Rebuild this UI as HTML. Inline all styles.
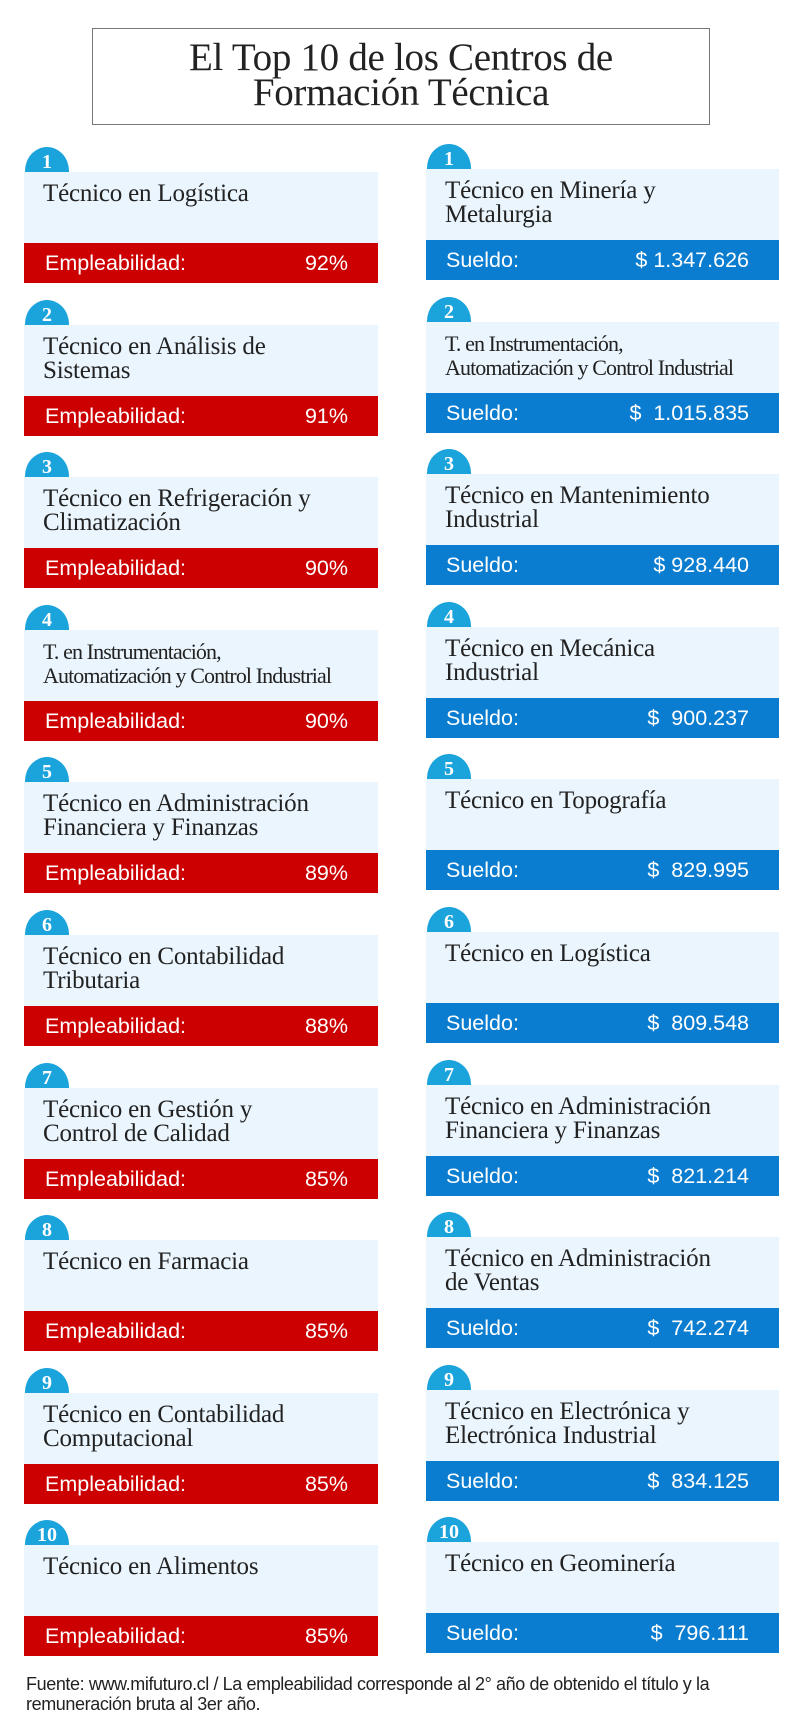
<!DOCTYPE html>
<html><head><meta charset="utf-8"><style>
body{margin:0;width:800px;height:1731px;background:#fff;position:relative;overflow:hidden;font-family:"Liberation Sans",sans-serif}
.tb{position:absolute;left:92px;top:28px;width:618px;height:97px;border:1.5px solid #777;text-align:center;font-family:"Liberation Serif",serif;font-size:39px;line-height:35px;color:#222;padding-top:11px;box-sizing:border-box;letter-spacing:-0.3px}
.c{position:absolute;height:136px}
.L{left:24px;width:354px}.R{left:426px;width:353px}
.b{position:absolute;left:1px;top:0;width:44px;height:26px;background:#1ba3dc;border-radius:22px 22px 0 0/24px 24px 0 0;color:#fff;font-family:"Liberation Serif",serif;font-weight:bold;font-size:20px;text-align:center;line-height:30px}
.lt{position:absolute;left:0;top:25px;width:100%;height:71px;background:#eaf5fd;font-family:"Liberation Serif",serif;font-size:25px;line-height:24px;color:#222;padding:10px 0 0 19px;box-sizing:border-box;letter-spacing:-0.2px;white-space:nowrap}
.sm{font-size:22px;letter-spacing:-0.9px;line-height:24px}
.bar{position:absolute;left:0;top:96px;width:100%;height:40px;color:#fff;font-size:21.5px;line-height:40px}
.L .bar{background:#cc0000}.R .bar{background:#0b7dd0}
.bar span{position:absolute;left:21px}.bar i{font-style:normal;position:absolute;right:30px}
.R .bar span{left:20px}
.f{position:absolute;left:26px;top:1674px;font-size:18px;line-height:20px;color:#222;letter-spacing:-0.4px;white-space:nowrap}
</style></head><body>
<div class="tb">El Top 10 de los Centros de<br>Formación Técnica</div>

<div class="c L" style="top:147px"><div class="b">1</div><div class="lt">Técnico en Logística</div><div class="bar"><span>Empleabilidad:</span><i>92%</i></div></div>
<div class="c L" style="top:300px"><div class="b">2</div><div class="lt">Técnico en Análisis de<br>Sistemas</div><div class="bar"><span>Empleabilidad:</span><i>91%</i></div></div>
<div class="c L" style="top:452px"><div class="b">3</div><div class="lt">Técnico en Refrigeración y<br>Climatización</div><div class="bar"><span>Empleabilidad:</span><i>90%</i></div></div>
<div class="c L" style="top:605px"><div class="b">4</div><div class="lt sm">T. en Instrumentación,<br>Automatización y Control Industrial</div><div class="bar"><span>Empleabilidad:</span><i>90%</i></div></div>
<div class="c L" style="top:757px"><div class="b">5</div><div class="lt">Técnico en Administración<br>Financiera y Finanzas</div><div class="bar"><span>Empleabilidad:</span><i>89%</i></div></div>
<div class="c L" style="top:910px"><div class="b">6</div><div class="lt">Técnico en Contabilidad<br>Tributaria</div><div class="bar"><span>Empleabilidad:</span><i>88%</i></div></div>
<div class="c L" style="top:1063px"><div class="b">7</div><div class="lt">Técnico en Gestión y<br>Control de Calidad</div><div class="bar"><span>Empleabilidad:</span><i>85%</i></div></div>
<div class="c L" style="top:1215px"><div class="b">8</div><div class="lt">Técnico en Farmacia</div><div class="bar"><span>Empleabilidad:</span><i>85%</i></div></div>
<div class="c L" style="top:1368px"><div class="b">9</div><div class="lt">Técnico en Contabilidad<br>Computacional</div><div class="bar"><span>Empleabilidad:</span><i>85%</i></div></div>
<div class="c L" style="top:1520px"><div class="b">10</div><div class="lt">Técnico en Alimentos</div><div class="bar"><span>Empleabilidad:</span><i>85%</i></div></div>

<div class="c R" style="top:144px"><div class="b">1</div><div class="lt">Técnico en Minería y<br>Metalurgia</div><div class="bar"><span>Sueldo:</span><i>$ 1.347.626</i></div></div>
<div class="c R" style="top:297px"><div class="b">2</div><div class="lt sm">T. en Instrumentación,<br>Automatización y Control Industrial</div><div class="bar"><span>Sueldo:</span><i>$ &nbsp;1.015.835</i></div></div>
<div class="c R" style="top:449px"><div class="b">3</div><div class="lt">Técnico en Mantenimiento<br>Industrial</div><div class="bar"><span>Sueldo:</span><i>$ 928.440</i></div></div>
<div class="c R" style="top:602px"><div class="b">4</div><div class="lt">Técnico en Mecánica<br>Industrial</div><div class="bar"><span>Sueldo:</span><i>$ &nbsp;900.237</i></div></div>
<div class="c R" style="top:754px"><div class="b">5</div><div class="lt">Técnico en Topografía</div><div class="bar"><span>Sueldo:</span><i>$ &nbsp;829.995</i></div></div>
<div class="c R" style="top:907px"><div class="b">6</div><div class="lt">Técnico en Logística</div><div class="bar"><span>Sueldo:</span><i>$ &nbsp;809.548</i></div></div>
<div class="c R" style="top:1060px"><div class="b">7</div><div class="lt">Técnico en Administración<br>Financiera y Finanzas</div><div class="bar"><span>Sueldo:</span><i>$ &nbsp;821.214</i></div></div>
<div class="c R" style="top:1212px"><div class="b">8</div><div class="lt">Técnico en Administración<br>de Ventas</div><div class="bar"><span>Sueldo:</span><i>$ &nbsp;742.274</i></div></div>
<div class="c R" style="top:1365px"><div class="b">9</div><div class="lt">Técnico en Electrónica y<br>Electrónica Industrial</div><div class="bar"><span>Sueldo:</span><i>$ &nbsp;834.125</i></div></div>
<div class="c R" style="top:1517px"><div class="b">10</div><div class="lt">Técnico en Geominería</div><div class="bar"><span>Sueldo:</span><i>$ &nbsp;796.111</i></div></div>

<div class="f">Fuente: www.mifuturo.cl / La empleabilidad corresponde al 2° año de obtenido el título y la<br>remuneración bruta al 3er año.</div>
</body></html>
